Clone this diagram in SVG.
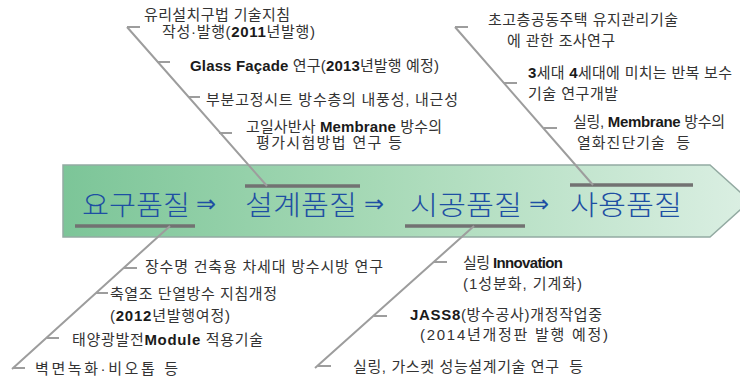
<svg xmlns="http://www.w3.org/2000/svg" width="740" height="383" viewBox="0 0 740 383">
<defs>
<linearGradient id="bg" x1="0" y1="0" x2="1" y2="0">
<stop offset="0" stop-color="#7cc598"/>
<stop offset="0.45" stop-color="#a6d9b6"/>
<stop offset="1" stop-color="#dbefe3"/>
</linearGradient>
<style>
.lbl{font-family:"Liberation Sans","Noto Sans CJK KR",sans-serif;font-size:15px;fill:#333}
.b{font-weight:bold;fill:#1a1a1a}
.big{font-family:"Noto Sans CJK KR",sans-serif;font-size:27px;font-weight:300;fill:#1e4fa3}
.arr{font-family:"DejaVu Sans",sans-serif;font-size:24px;fill:#1e4fa3}
.lead{stroke:#9d9d9d;stroke-width:2;fill:none}
.bar{stroke:#727272;stroke-width:3.5;fill:none}
</style>
</defs>
<rect width="740" height="383" fill="#ffffff"/>
<g id="banner">
<path d="M63,165 L710,165 L750,201 L710,237 L63,237 Z" fill="url(#bg)" stroke="#93aaa2" stroke-width="1.5"/>
<text class="big" x="82" y="215" textLength="108" lengthAdjust="spacingAndGlyphs">요구품질</text>
<text class="arr" x="196" y="212">⇒</text>
<text class="big" x="245" y="215" textLength="112" lengthAdjust="spacingAndGlyphs">설계품질</text>
<text class="arr" x="364" y="212">⇒</text>
<text class="big" x="410" y="215" textLength="112" lengthAdjust="spacingAndGlyphs">시공품질</text>
<text class="arr" x="529" y="212">⇒</text>
<text class="big" x="570" y="215" textLength="112" lengthAdjust="spacingAndGlyphs">사용품질</text>
</g>
<g id="connectors">
<line class="bar" x1="75" y1="226" x2="195" y2="226"/>
<line class="bar" x1="245" y1="186" x2="360" y2="186"/>
<line class="bar" x1="405" y1="226" x2="525" y2="226"/>
<line class="bar" x1="570" y1="185" x2="693" y2="185"/>
<path class="lead" d="M127,27 L267,186 M127,27 H140 M157,62 H170 M188,97 H200 M219,133 H232"/>
<path class="lead" d="M455,27 L593,185 M455,27 H468 M504,83 H517 M544,128 H557"/>
<path class="lead" d="M170,226 L12,369 M124,268 H137 M96,293 H108 M47,338 H59 M13,368 H25"/>
<path class="lead" d="M474,226 L315,368 M434,262 H447 M374,316 H387 M318,366 H331"/>
</g>
<g id="n-design1"><text class="lbl" x="144" y="20" textLength="146" lengthAdjust="spacing">유리설치구법 기술지침</text><text class="lbl" x="162" y="37" textLength="153" lengthAdjust="spacing">작성·발행(<tspan class="b">2011</tspan>년발행)</text></g>
<g id="n-design2"><text class="lbl" x="190" y="71" textLength="249" lengthAdjust="spacing"><tspan class="b">Glass Façade</tspan> 연구(<tspan class="b">2013</tspan>년발행 예정)</text></g>
<g id="n-design3"><text class="lbl" x="206" y="105" textLength="252" lengthAdjust="spacing">부분고정시트 방수층의 내풍성, 내근성</text></g>
<g id="n-design4"><text class="lbl" x="246" y="132" textLength="196" lengthAdjust="spacing">고일사반사 <tspan class="b">Membrane</tspan> 방수의</text><text class="lbl" x="256" y="148" textLength="146" lengthAdjust="spacing">평가시험방법 연구 등</text></g>
<g id="n-use1"><text class="lbl" x="488" y="25" textLength="190" lengthAdjust="spacing">초고층공동주택 유지관리기술</text><text class="lbl" x="507" y="46" textLength="108" lengthAdjust="spacing">에 관한 조사연구</text></g>
<g id="n-use2"><text class="lbl" x="528" y="78" textLength="204" lengthAdjust="spacing"><tspan class="b">3</tspan>세대 <tspan class="b">4</tspan>세대에 미치는 반복 보수</text><text class="lbl" x="528" y="99" textLength="90" lengthAdjust="spacing">기술 연구개발</text></g>
<g id="n-use3"><text class="lbl" x="573" y="127" textLength="152" lengthAdjust="spacing">실링, <tspan class="b">Membrane</tspan> 방수의</text><text class="lbl" x="577" y="148" xml:space="preserve" textLength="113" lengthAdjust="spacing">열화진단기술  등</text></g>
<g id="n-req1"><text class="lbl" x="145" y="272" textLength="238" lengthAdjust="spacing">장수명 건축용 차세대 방수시방 연구</text></g>
<g id="n-req2"><text class="lbl" x="110" y="299" textLength="167" lengthAdjust="spacing">축열조 단열방수 지침개정</text><text class="lbl" x="110" y="321" textLength="120" lengthAdjust="spacing">(<tspan class="b">2012</tspan>년발행여정)</text></g>
<g id="n-req3"><text class="lbl" x="72" y="345" textLength="191" lengthAdjust="spacing">태양광발전<tspan class="b">Module</tspan> 적용기술</text></g>
<g id="n-req4"><text class="lbl" x="35" y="374" textLength="143" lengthAdjust="spacing">벽면녹화·비오톱 등</text></g>
<g id="n-con1"><text class="lbl" x="463" y="268" textLength="100" lengthAdjust="spacing">실링 <tspan class="b">Innovation</tspan></text><text class="lbl" x="463" y="289" textLength="119" lengthAdjust="spacing">(1성분화, 기계화)</text></g>
<g id="n-con2"><text class="lbl" x="410" y="320" textLength="192" lengthAdjust="spacing"><tspan class="b">JASS8</tspan>(방수공사)개정작업중</text><text class="lbl" x="420" y="340" textLength="188" lengthAdjust="spacing">(2014년개정판 발행 예정)</text></g>
<g id="n-con3"><text class="lbl" x="353" y="372" xml:space="preserve" textLength="230" lengthAdjust="spacing">실링, 가스켓 성능설계기술 연구  등</text></g>
</svg>
